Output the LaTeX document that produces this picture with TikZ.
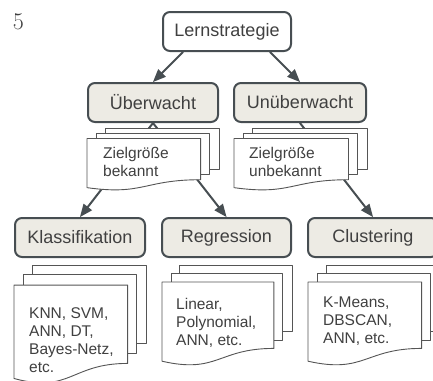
\documentclass[tikz,border=0pt]{standalone}
\usepackage{fontspec}
\setsansfont{Liberation Sans}
\usepackage{tikz}
\usetikzlibrary{arrows}

\definecolor{boxline}{HTML}{474E52}
\definecolor{boxfill}{HTML}{EDEBE4}
\definecolor{textgray}{HTML}{404040}
\definecolor{docline}{HTML}{555555}

% stack of three sheets: #1 x, #2 y, #3 width, #4 height
\newcommand{\multidoc}[4]{%
\filldraw[docsheet] ({#1+0.138*#3},#2) rectangle ({#1+#3},{#2+0.666*#4});
\filldraw[docsheet] ({#1+0.071*#3},{#2+0.084*#4}) rectangle ({#1+0.926*#3},{#2+0.753*#4});
\filldraw[docsheet] (#1,{#2+0.17*#4}) -- ({#1+0.861*#3},{#2+0.17*#4}) -- ({#1+0.861*#3},{#2+0.834*#4})
  .. controls ({#1+0.43*#3},{#2+0.834*#4}) and ({#1+0.43*#3},{#2+1.09*#4}) .. (#1,{#2+0.962*#4}) -- cycle;
}

\begin{document}
\begin{tikzpicture}[line cap=round,line join=round,>=triangle 45,x=1pt,y=-1pt,
  kategorie/.style={draw=boxline,line width=2pt,rounded corners=7pt,minimum width=#1,minimum height=39pt,inner sep=0pt,text=textgray,font=\sffamily\fontsize{18}{21}\selectfont},
  kategorie/.default=130pt,
  docsheet/.style={draw=docline,fill=white,line width=0.9pt},
  doctext/.style={anchor=north west,inner sep=0pt,align=left,text=textgray,font=\sffamily\fontsize{15.5}{18}\selectfont},
  pfeil/.style={->,draw=boxline,line width=2pt}]
\clip (0,0) rectangle (433,380);
\node[anchor=base,text=textgray,font=\fontsize{24}{28}\selectfont] (nr) at (18.5,29) {5};
\node[kategorie=128pt,fill=white] (lern) at (227,31.5) {Lernstrategie};
\node[kategorie,fill=boxfill] (ueb) at (153,102.5) {Überwacht};
\node[kategorie=132pt,fill=boxfill] (unueb) at (300,102.5) {Unüberwacht};
\node[kategorie,fill=boxfill] (klass) at (80,237.5) {Klassifikation};
\node[kategorie=129pt,fill=boxfill] (regr) at (226.5,237.5) {Regression};
\node[kategorie,fill=boxfill] (clust) at (373,237.5) {Clustering};
\draw[pfeil] ([xshift=-44pt]lern.south) -- (ueb.north);
\draw[pfeil] ([xshift=43pt]lern.south) -- (unueb.north);
\draw[pfeil] (ueb.south) -- (klass.north);
\draw[pfeil] (ueb.south) -- (regr.north);
\draw[pfeil] (unueb.south) -- (clust.north);
\multidoc{87}{128}{132}{62}
\multidoc{234}{128}{133}{62}
\multidoc{14}{265}{132}{118}
\multidoc{162}{265}{130}{100}
\multidoc{308}{265}{132}{100}
\node[doctext] (zielja) at (103,147) {Zielgröße\\bekannt};
\node[doctext] (zielnein) at (249,147) {Zielgröße\\unbekannt};
\node[doctext] (klassm) at (29,307) {KNN, SVM,\\ANN, DT,\\Bayes-Netz,\\etc.};
\node[doctext] (regrm) at (176,298) {Linear,\\Polynomial,\\ANN, etc.};
\node[doctext] (clustm) at (323,297) {K-Means,\\DBSCAN,\\ANN, etc.};
\end{tikzpicture}
\end{document}
